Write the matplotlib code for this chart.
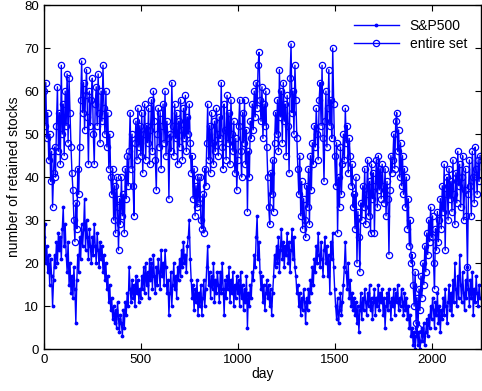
import numpy as np
import matplotlib
matplotlib.use("Agg")
import matplotlib.pyplot as plt

# values every 5 days (day 0 .. 2250)
entire_set = [
    60, 52, 62, 49, 55, 44, 50, 39, 46, 33,
    41, 47, 40, 52, 61, 46, 55, 43, 66, 50,
    57, 45, 60, 52, 64, 48, 63, 55, 47, 41,
    37, 30, 25, 34, 28, 42, 36, 47, 58, 67,
    55, 62, 51, 59, 65, 54, 43, 60, 52, 58,
    63, 50, 43, 57, 61, 52, 64, 55, 48, 60,
    53, 66, 56, 50, 60, 47, 55, 42, 50, 40,
    36, 42, 30, 38, 27, 40, 33, 23, 35, 29,
    40, 31, 36, 27, 42, 35, 45, 38, 46, 55,
    42, 50, 38, 31, 48, 53, 44, 56, 47, 52,
    45, 55, 41, 50, 57, 44, 52, 48, 56, 43,
    51, 58, 46, 60, 53, 44, 37, 50, 56, 47,
    55, 42, 52, 57, 48, 60, 45, 53, 49, 35,
    50, 46, 62, 52, 45, 57, 49, 55, 43, 53,
    47, 58, 51, 44, 56, 49, 59, 46, 54, 50,
    57, 48, 41, 45, 35, 42, 31, 38, 33, 40,
    34, 40, 30, 28, 36, 27, 42, 38, 48, 57,
    44, 52, 41, 55, 48, 43, 53, 46, 56, 50,
    45, 54, 49, 62, 47, 42, 57, 51, 44, 59,
    48, 55, 43, 58, 50, 46, 53, 41, 49, 37,
    44, 52, 58, 46, 40, 55, 48, 58, 43, 51,
    32, 46, 40, 53, 49, 57, 51, 60, 54, 62,
    56, 66, 69, 58, 53, 61, 49, 57, 52, 60,
    47, 40, 33, 29, 41, 36, 44, 32, 48, 55,
    50, 58, 46, 65, 54, 60, 48, 62, 53, 57,
    45, 59, 52, 41, 63, 71, 55, 60, 50, 66,
    58, 49, 42, 36, 45, 31, 39, 28, 35, 30,
    26, 38, 33, 42, 29, 45, 37, 48, 43, 52,
    47, 56, 50, 44, 58, 62, 52, 66, 49, 39,
    53, 60, 47, 56, 65, 52, 58, 49, 70, 57,
    45, 38, 48, 27, 40, 33, 47, 36, 43, 50,
    44, 56, 48, 52, 41, 49, 45, 38, 43, 33,
    36, 28, 40, 20, 32, 26, 18, 34, 30, 38,
    33, 42, 29, 36, 44, 31, 39, 27, 43, 35,
    41, 27, 38, 44, 33, 45, 37, 42, 35, 43,
    38, 34, 42, 31, 39, 35, 22, 37, 45, 41,
    44, 50, 42, 53, 55, 46, 51, 40, 48, 38,
    45, 36, 42, 33, 40, 28, 35, 24, 30, 20,
    22, 15, 10, 18, 6, 12, 5, 14, 9, 17,
    12, 20, 15, 24, 18, 27, 22, 30, 25, 33,
    26, 31, 20, 14, 28, 23, 32, 25, 30, 35,
    28, 38, 32, 43, 23, 36, 40, 30, 42, 35,
    39, 32, 44, 36, 29, 41, 34, 46, 38, 43,
    33, 40, 45, 30, 37, 42, 31, 19, 36, 44,
    38, 31, 46, 40, 34, 47, 42, 36, 44, 39,
    45,
]

sp500 = [
    26, 29, 20, 24, 18, 22, 15, 21, 17, 10,
    16, 22, 19, 25, 20, 27, 23, 26, 21, 28,
    33, 24, 29, 22, 18, 25, 15, 20, 13, 17,
    12, 19, 14, 6, 16, 22, 18, 26, 21, 29,
    24, 28, 35, 23, 30, 26, 21, 28, 24, 20,
    26, 22, 29, 24, 20, 27, 23, 19, 25, 21,
    24, 18, 22, 16, 20, 14, 17, 11, 15, 9,
    12, 7, 10, 6, 9, 5, 11, 7, 4, 8,
    6, 3, 9, 5, 11, 8, 13, 10, 19, 14,
    11, 16, 12, 15, 10, 17, 13, 16, 11, 14,
    12, 17, 14, 19, 13, 20, 15, 18, 12, 21,
    16, 20, 14, 22, 17, 13, 19, 15, 21, 18,
    14, 23, 17, 20, 15, 23, 19, 13, 16, 8,
    13, 18, 10, 15, 20, 14, 17, 12, 19, 16,
    21, 17, 23, 19, 25, 20, 22, 18, 24, 26,
    30, 21, 16, 12, 15, 9, 14, 11, 16, 8,
    13, 10, 15, 8, 12, 16, 10, 14, 19, 24,
    15, 18, 12, 17, 14, 20, 11, 16, 13, 18,
    15, 11, 18, 13, 20, 14, 8, 16, 12, 17,
    14, 19, 11, 16, 13, 18, 10, 15, 12, 17,
    13, 16, 10, 18, 12, 15, 9, 14, 11, 17,
    5, 13, 10, 15, 12, 18, 16, 22, 19, 26,
    31, 21, 25, 18, 14, 17, 11, 15, 9, 13,
    16, 12, 15, 10, 14, 8, 13, 17, 22, 19,
    24, 20, 26, 18, 23, 28, 21, 25, 19, 24,
    22, 27, 20, 25, 18, 23, 28, 21, 26, 19,
    17, 13, 15, 10, 13, 8, 12, 9, 14, 11,
    6, 12, 9, 14, 11, 16, 13, 19, 15, 21,
    18, 24, 20, 27, 22, 19, 25, 21, 17, 23,
    26, 20, 24, 17, 22, 13, 25, 21, 27, 19,
    14, 10, 7, 12, 6, 9, 13, 8, 11, 15,
    19, 25, 18, 14, 20, 12, 16, 10, 13, 9,
    12, 8, 11, 6, 10, 4, 9, 13, 7, 12,
    9, 14, 11, 8, 13, 10, 15, 9, 12, 7,
    11, 14, 8, 12, 10, 15, 9, 13, 11, 14,
    8, 12, 5, 10, 13, 9, 14, 11, 7, 12,
    10, 14, 8, 13, 11, 15, 9, 12, 10, 14,
    11, 8, 13, 9, 12, 7, 10, 5, 8, 3,
    5, 1, 4, 0, 3, 6, 1, 4, 0, 2,
    5, 2, 6, 1, 4, 7, 3, 8, 5, 10,
    7, 12, 9, 5, 11, 8, 13, 6, 10, 4,
    9, 7, 12, 8, 14, 10, 6, 11, 15, 9,
    13, 8, 16, 11, 20, 14, 10, 17, 12, 22,
    15, 11, 18, 13, 9, 16, 12, 19, 14, 10,
    16, 12, 18, 8, 14, 11, 17, 13, 10, 15,
    12,
]

days = np.arange(len(sp500)) * 5

plt.rcParams['font.family'] = ['Liberation Sans', 'DejaVu Sans']

fig = plt.figure(figsize=(4.82, 3.91), dpi=100)
ax = fig.add_axes([0.091, 0.107, 0.907, 0.88])

ax.plot(days, sp500, color='blue', lw=1.0, marker='.', ms=3.5, label='S&P500')
ax.plot(days, entire_set, color='blue', lw=1.0, marker='o', ms=4.5,
        mfc='none', mew=0.9, label='entire set')

ax.set_xlim(0, 2255)
ax.set_ylim(0, 80)
ax.set_xticks([0, 500, 1000, 1500, 2000])
ax.set_yticks(range(0, 81, 10))
ax.tick_params(direction='in', top=True, right=True, labelsize=9.5, length=4)
for s in ax.spines.values():
    s.set_linewidth(1.0)
ax.set_xlabel('day', fontsize=10, labelpad=1)
ax.set_ylabel('number of retained stocks', fontsize=10, labelpad=2)
ax.legend(loc='upper right', frameon=False, fontsize=10, handlelength=3.2,
          borderaxespad=0.6, labelspacing=0.3)

plt.savefig('out.png', dpi=100)
plt.close(fig)
